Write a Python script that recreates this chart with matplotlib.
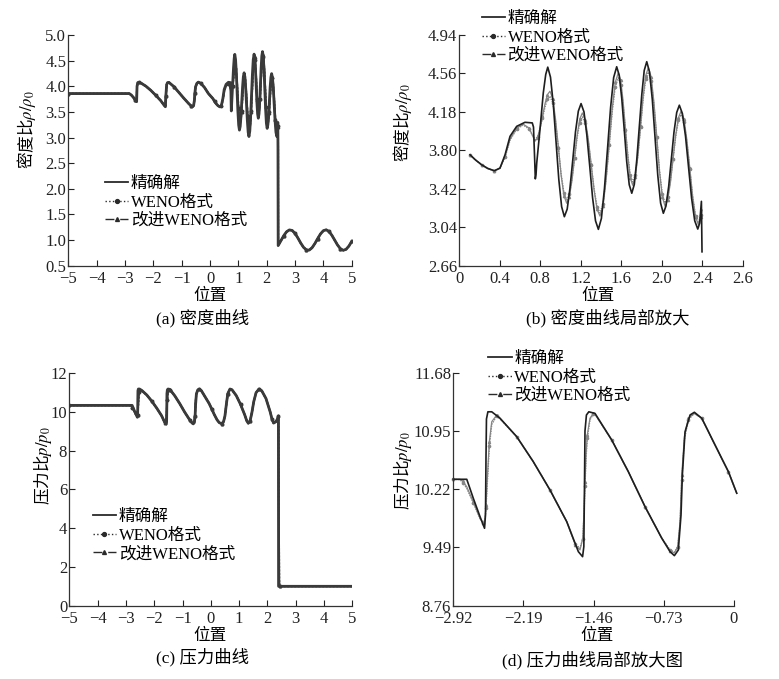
import matplotlib
matplotlib.use('Agg')
import matplotlib.pyplot as plt
import numpy as np

plt.rcParams['font.family'] = ['Liberation Serif', 'Noto Sans CJK SC', 'DejaVu Sans']
plt.rcParams['mathtext.fontset'] = 'stix'
plt.rcParams['axes.unicode_minus'] = True

# ---- density, shared left part (x < 0.1) ----
rho_left_x = [-5.0, -2.85, -2.78, -2.70, -2.64, -2.59, -2.575, -2.55, -2.50, -2.43,
              -2.26, -2.09, -1.91, -1.74, -1.62, -1.575, -1.56, -1.53, -1.50, -1.45,
              -1.27, -1.10, -0.93, -0.75, -0.665, -0.62, -0.58, -0.55, -0.535, -0.51,
              -0.46, -0.41, -0.335, -0.20, -0.06]
rho_left = [3.857, 3.857, 3.83, 3.78, 3.73, 3.70, 4.00, 4.07, 4.075, 4.06,
            4.00, 3.92, 3.82, 3.72, 3.63, 3.60, 3.80, 4.03, 4.07, 4.075,
            3.99, 3.88, 3.77, 3.66, 3.615, 3.60, 3.62, 3.73, 3.86, 3.99,
            4.06, 4.08, 4.06, 3.98, 3.86]

# ---- density, zoomed region (panel b) ----
rho_ex_x = [0.106, 0.16, 0.221, 0.28, 0.346, 0.402, 0.452, 0.501, 0.567, 0.649,
            0.721, 0.733, 0.745, 0.751, 0.758, 0.765, 0.797, 0.830, 0.854, 0.874,
            0.901, 0.929, 0.956, 0.983, 1.011, 1.038,
            1.066, 1.093, 1.121, 1.148, 1.176, 1.203,
            1.232, 1.260, 1.289, 1.317, 1.346, 1.374,
            1.404, 1.434, 1.465, 1.495, 1.525, 1.555,
            1.580, 1.605, 1.630, 1.654, 1.679, 1.704,
            1.729, 1.753, 1.778, 1.803, 1.827, 1.852,
            1.879, 1.907, 1.934, 1.961, 1.989, 2.016,
            2.042, 2.069, 2.095, 2.121, 2.148, 2.174,
            2.204, 2.235, 2.265, 2.295, 2.326, 2.356,
            2.375, 2.392, 2.398]
rho_ex = [3.756, 3.705, 3.657, 3.622, 3.598, 3.624, 3.756, 3.938, 4.037, 4.077,
          4.071, 4.03, 3.70, 3.518, 3.56, 3.674, 4.004, 4.369, 4.55, 4.622,
          4.523, 4.253, 3.883, 3.514, 3.243, 3.144,
          3.219, 3.423, 3.703, 3.983, 4.187, 4.262,
          4.179, 3.952, 3.641, 3.330, 3.103, 3.019,
          3.127, 3.421, 3.823, 4.225, 4.519, 4.626,
          4.542, 4.314, 4.001, 3.689, 3.460, 3.376,
          3.463, 3.701, 4.026, 4.351, 4.589, 4.676,
          4.576, 4.302, 3.927, 3.553, 3.278, 3.178,
          3.250, 3.445, 3.712, 3.979, 4.174, 4.246,
          4.164, 3.940, 3.634, 3.328, 3.104, 3.022,
          3.08, 3.296, 2.797]

rho_num_x = [0.106, 0.16, 0.221, 0.28, 0.346, 0.40, 0.452, 0.501, 0.567, 0.632, 0.69, 0.748,
             0.773, 0.797, 0.822, 0.847, 0.871, 0.896,
             0.924, 0.951, 0.979, 1.006, 1.034, 1.061,
             1.087, 1.113, 1.139, 1.164, 1.190, 1.216,
             1.245, 1.274, 1.303, 1.332, 1.361, 1.390,
             1.420, 1.450, 1.481, 1.511, 1.541, 1.571,
             1.595, 1.618, 1.642, 1.666, 1.689, 1.713,
             1.739, 1.765, 1.791, 1.816, 1.842, 1.868,
             1.896, 1.923, 1.951, 1.978, 2.006, 2.033,
             2.059, 2.086, 2.112, 2.138, 2.165, 2.191,
             2.220, 2.248, 2.277, 2.305, 2.334, 2.362,
             2.385, 2.398]
rho_weno = [3.756, 3.705, 3.657, 3.62, 3.598, 3.62, 3.73, 3.90, 4.01, 4.05, 4.01, 3.905,
            3.934, 4.013, 4.120, 4.228, 4.306, 4.335,
            4.266, 4.079, 3.823, 3.566, 3.379, 3.310,
            3.365, 3.515, 3.720, 3.925, 4.075, 4.130,
            4.066, 3.893, 3.655, 3.418, 3.244, 3.180,
            3.270, 3.514, 3.849, 4.183, 4.427, 4.517,
            4.448, 4.260, 4.003, 3.745, 3.557, 3.488,
            3.561, 3.759, 4.031, 4.302, 4.500, 4.573,
            4.486, 4.250, 3.927, 3.603, 3.367, 3.280,
            3.339, 3.498, 3.717, 3.935, 4.095, 4.153,
            4.081, 3.885, 3.617, 3.349, 3.153, 3.081,
            3.16, 3.22]
rho_iweno = [3.756, 3.705, 3.657, 3.62, 3.598, 3.625, 3.74, 3.91, 4.02, 4.058, 4.02, 3.89,
             3.923, 4.014, 4.137, 4.261, 4.351, 4.384,
             4.310, 4.107, 3.831, 3.554, 3.351, 3.277,
             3.337, 3.500, 3.724, 3.947, 4.110, 4.170,
             4.102, 3.915, 3.660, 3.405, 3.218, 3.150,
             3.245, 3.504, 3.859, 4.213, 4.472, 4.567,
             4.492, 4.289, 4.011, 3.733, 3.530, 3.455,
             3.533, 3.746, 4.036, 4.327, 4.539, 4.617,
             4.525, 4.275, 3.932, 3.590, 3.339, 3.247,
             3.310, 3.482, 3.717, 3.951, 4.123, 4.186,
             4.111, 3.906, 3.626, 3.345, 3.140, 3.065,
             3.14, 3.21]

rho_shock_num_x = [2.402]
rho_shock_num = [2.72]

# ---- density, right of the shock ----
rho_right_x = [2.405, 2.5, 2.6, 2.7, 2.8, 2.9, 3.0, 3.1, 3.2, 3.3, 3.4, 3.5, 3.6, 3.7,
               3.8, 3.9, 4.0, 4.1, 4.2, 4.3, 4.4, 4.5, 4.6, 4.7, 4.8, 4.9, 5.0]
rho_right = [0.893, 0.987, 1.084, 1.161, 1.198, 1.187, 1.130, 1.041, 0.942, 0.858,
             0.808, 0.804, 0.850, 0.932, 1.030, 1.121, 1.183, 1.200, 1.167, 1.093,
             0.998, 0.903, 0.831, 0.800, 0.819, 0.882, 0.974]

# ---- pressure, zoomed region (panel d) ----
p_ex_x = [-2.92, -2.78, -2.75, -2.712, -2.642, -2.595, -2.585, -2.580, -2.575, -2.56,
          -2.52, -2.434, -2.26, -2.088, -1.914, -1.74, -1.619, -1.575, -1.562, -1.555,
          -1.550, -1.535, -1.51, -1.446, -1.272, -1.099, -0.925, -0.751, -0.665, -0.62,
          -0.579, -0.551, -0.537, -0.509, -0.457, -0.412, -0.335, -0.197, -0.058, 0.029]
p_ex = [10.344, 10.344, 10.24, 10.106, 9.876, 9.73, 9.9, 10.6, 11.1, 11.19,
        11.19, 11.109, 10.878, 10.565, 10.21, 9.813, 9.437, 9.374, 9.5, 10.3,
        10.95, 11.15, 11.19, 11.17, 10.837, 10.439, 10.0, 9.605, 9.437, 9.387,
        9.458, 9.897, 10.398, 10.94, 11.15, 11.184, 11.109, 10.774, 10.439, 10.169]

p_num_x = [-2.92, -2.85, -2.82, -2.78, -2.712, -2.642, -2.607, -2.59, -2.58, -2.566,
           -2.545, -2.52, -2.468, -2.434, -2.26, -2.088, -1.914, -1.74, -1.65, -1.602,
           -1.573, -1.56, -1.55, -1.539, -1.526, -1.498, -1.463, -1.446, -1.272, -1.099,
           -0.925, -0.751, -0.665, -0.62, -0.585, -0.561, -0.543, -0.516, -0.475, -0.412,
           -0.335, -0.197, -0.058, 0.029]
p_weno = [10.344, 10.34, 10.30, 10.23, 10.05, 9.85, 9.80, 9.83, 9.98, 10.30,
          10.76, 11.03, 11.14, 11.10, 10.878, 10.565, 10.21, 9.813, 9.53, 9.48,
          9.60, 9.90, 10.26, 10.60, 10.86, 11.09, 11.16, 11.16, 10.837, 10.439,
          10.0, 9.605, 9.46, 9.43, 9.50, 9.78, 10.34, 10.84, 11.09, 11.17,
          11.109, 10.774, 10.439, 10.169]
p_iweno = [10.344, 10.344, 10.32, 10.25, 10.06, 9.855, 9.79, 9.85, 10.02, 10.356,
           10.815, 11.066, 11.15, 11.109, 10.878, 10.565, 10.21, 9.813, 9.52, 9.458,
           9.605, 9.94, 10.31, 10.65, 10.9, 11.109, 11.17, 11.16, 10.837, 10.439,
           10.0, 9.605, 9.45, 9.42, 9.5, 9.813, 10.4, 10.878, 11.109, 11.17,
           11.109, 10.774, 10.439, 10.169]

# ---- pressure, outside the zoom (panel c) ----
p_left_x = [-5.0]
p_left = [10.344]
p_right_x = [0.12, 0.22, 0.30, 0.385, 0.45, 0.50, 0.55, 0.60, 0.678, 0.75,
             0.90, 1.05, 1.20, 1.27, 1.325, 1.39, 1.45, 1.52, 1.60, 1.703,
             1.80, 1.95, 2.10, 2.16, 2.22, 2.30, 2.36, 2.39]
p_right = [9.88, 9.60, 9.45, 9.40, 9.50, 9.80, 10.40, 10.95, 11.19, 11.15,
           10.85, 10.40, 9.85, 9.55, 9.42, 9.55, 9.95, 10.55, 11.00, 11.19,
           11.10, 10.70, 10.00, 9.65, 9.43, 9.50, 9.65, 9.80]
p_shock_x = [2.395, 5.0]
p_shock = [1.0, 1.0]
p_shock_num_x = [2.40, 2.41, 2.42, 2.43, 5.0]
p_shock_num = [7.9, 3.5, 1.3, 1.0, 1.0]

labels = ['精确解', 'WENO格式', '改进WENO格式']

a_xticks = [-5, -4, -3, -2, -1, 0, 1, 2, 3, 4, 5]
a_yticks = [0.5, 1.0, 1.5, 2.0, 2.5, 3.0, 3.5, 4.0, 4.5, 5.0]
b_xticks = [0, 0.4, 0.8, 1.2, 1.6, 2.0, 2.4, 2.8]
b_xticklabels = ['0', '0.4', '0.8', '1.2', '1.6', '2.0', '2.4', '2.6']
b_yticks = [2.66, 3.04, 3.42, 3.80, 4.18, 4.56, 4.94]
c_yticks = [0, 2, 4, 6, 8, 10, 12]
d_xticks = [-2.92, -2.19, -1.46, -0.73, 0]
d_xticklabels = ['\u22122.92', '\u22122.19', '\u22121.46', '\u22120.73', '0']
d_yticks = [8.76, 9.49, 10.22, 10.95, 11.68]

fig = plt.figure(figsize=(7.79, 6.79), dpi=100)
W, H = 779.0, 679.0


def style_axes(ax):
    ax.spines['top'].set_visible(False)
    ax.spines['right'].set_visible(False)
    for s in ('left', 'bottom'):
        ax.spines[s].set_color('#333333')
        ax.spines[s].set_linewidth(0.9)
    ax.tick_params(direction='in', length=4, width=0.8, labelsize=12,
                   colors='#222222')
    ax.tick_params(axis='y', pad=1.5)
    ax.tick_params(axis='x', pad=4)


def add_legend(ax, handles, anchor):
    ax.legend(handles, labels, loc='center left', bbox_to_anchor=anchor,
              frameon=False, fontsize=12, numpoints=1, handlelength=1.4,
              handletextpad=0.15, labelspacing=0.15, borderpad=0,
              borderaxespad=0)


def ftext(x, y, s, **kw):
    fig.text(x / W, 1 - y / H, s, ha='center', va='center', **kw)


dark = '#3a3a3a'
gray = '#858585'
dense_dot = (0, (1, 0.8))

# (a) density, full domain
ax = fig.add_axes([0.0877, 0.6087, 0.3638, 0.3398])
style_axes(ax)
xa_num = rho_left_x + rho_num_x + rho_shock_num_x + rho_right_x
l2, = ax.plot(xa_num, rho_left + rho_weno + rho_shock_num + rho_right, ls=dense_dot,
              color=dark, lw=1.4, marker='o', ms=1.8, markevery=4)
l3, = ax.plot(xa_num, rho_left + rho_iweno + rho_shock_num + rho_right, ls='-',
              color=dark, lw=1.4, marker='^', ms=1.8, markevery=4)
l1, = ax.plot(rho_left_x + rho_ex_x + rho_right_x, rho_left + rho_ex + rho_right,
              color=dark, lw=2.0)
ax.set_xlim(-5, 5)
ax.set_ylim(0.5, 5.0)
ax.set_xticks(a_xticks)
ax.set_yticks(a_yticks)
ax.set_yticklabels(['%.1f' % v for v in a_yticks])
h1 = plt.Line2D([], [], ls='-', color='#2a2a2a', lw=1.3)
h2 = plt.Line2D([], [], ls=':', color='#2a2a2a', lw=1.0, marker='o', ms=2.8)
h3 = plt.Line2D([], [], ls='-.', color='#2a2a2a', lw=1.0, marker='^', ms=2.8)
add_legend(ax, [h1, h2, h3], (0.13, 0.274))

# (b) density, zoom
ax = fig.add_axes([0.5896, 0.6087, 0.3638, 0.3398])
style_axes(ax)
ax.plot(rho_num_x, rho_weno, ls=dense_dot, color=gray, lw=1.0,
        marker='o', ms=1.6, markevery=2)
ax.plot(rho_num_x, rho_iweno, ls='-', color=gray, lw=0.9,
        marker='^', ms=1.6, markevery=2)
ax.plot(rho_ex_x, rho_ex, color='#1e1e1e', lw=1.2)
ax.set_xlim(0, 2.8)
ax.set_ylim(2.66, 4.94)
ax.set_xticks(b_xticks)
ax.set_xticklabels(b_xticklabels)
ax.set_yticks(b_yticks)
ax.set_yticklabels(['%.2f' % v for v in b_yticks])
add_legend(ax, [h1, h2, h3], (0.079, 0.989))

# (c) pressure, full domain
ax = fig.add_axes([0.0890, 0.1080, 0.3632, 0.3422])
style_axes(ax)
xc_num = p_left_x + p_num_x + p_right_x + p_shock_num_x
ax.plot(xc_num, p_left + p_weno + p_right + p_shock_num, ls=dense_dot,
        color=dark, lw=1.4, marker='o', ms=1.8, markevery=4)
ax.plot(xc_num, p_left + p_iweno + p_right + p_shock_num, ls='-',
        color=dark, lw=1.4, marker='^', ms=1.8, markevery=4)
ax.plot(p_left_x + p_ex_x + p_right_x + p_shock_x,
        p_left + p_ex + p_right + p_shock, color=dark, lw=2.0)
ax.set_xlim(-5, 5)
ax.set_ylim(0, 12)
ax.set_xticks(a_xticks)
ax.set_yticks(c_yticks)
add_legend(ax, [h1, h2, h3], (0.083, 0.301))

# (d) pressure, zoom
ax = fig.add_axes([0.5819, 0.1080, 0.3603, 0.3431])
style_axes(ax)
ax.plot(p_num_x, p_weno, ls=dense_dot, color=gray, lw=1.0,
        marker='o', ms=1.6, markevery=2, clip_on=False)
ax.plot(p_num_x, p_iweno, ls='-', color=gray, lw=0.9,
        marker='^', ms=1.6, markevery=2, clip_on=False)
ax.plot(p_ex_x, p_ex, color='#1e1e1e', lw=1.2, clip_on=False)
ax.set_xlim(-2.92, 0)
ax.set_ylim(8.76, 11.68)
ax.set_xticks(d_xticks)
ax.set_xticklabels(d_xticklabels)
ax.set_yticks(d_yticks)
ax.set_yticklabels(['%.2f' % v for v in d_yticks])
add_legend(ax, [h1, h2, h3], (0.125, 0.979))

# axis titles and captions
cjk = ['Noto Sans CJK SC']
ftext(27, 130, '密度比$\\rho/\\rho_0$', rotation=90, fontsize=12, family=cjk)
ftext(402, 123, '密度比$\\rho/\\rho_0$', rotation=90, fontsize=12, family=cjk)
ftext(43, 466, '压力比$p/p_0$', rotation=90, fontsize=12, family=cjk)
ftext(403, 471, '压力比$p/p_0$', rotation=90, fontsize=12, family=cjk)

ftext(210, 296, '位置', fontsize=12)
ftext(598, 296, '位置', fontsize=12)
ftext(210, 636, '位置', fontsize=12)
ftext(597, 636, '位置', fontsize=12)

ftext(203, 318, '(a) 密度曲线', fontsize=12.5)
ftext(608, 318, '(b) 密度曲线局部放大', fontsize=12.5)
ftext(203, 657, '(c) 压力曲线', fontsize=12.5)
ftext(593, 660, '(d) 压力曲线局部放大图', fontsize=12.5)

fig.savefig('out.png', dpi=100, facecolor='white')
